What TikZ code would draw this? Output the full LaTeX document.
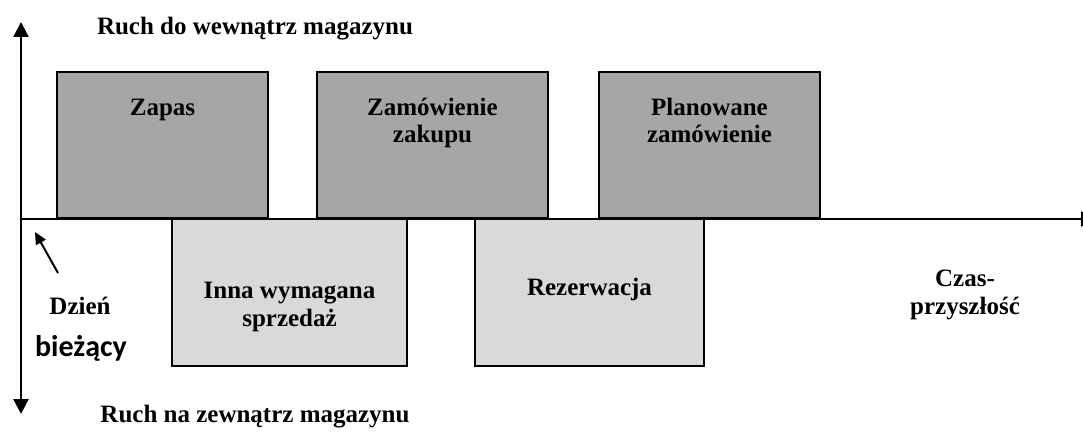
\documentclass[tikz,border=0pt]{standalone}
\usepackage{fontspec}
\setmainfont{Liberation Serif}
\newfontfamily\calibrifont{Carlito}
\usetikzlibrary{arrows.meta}
\definecolor{topgray}{HTML}{A6A6A6}
\definecolor{botgray}{HTML}{D9D9D9}
\begin{document}
\begin{tikzpicture}[x=1pt,y=-1pt,
  topbox/.style={draw=black, line width=1.8pt, fill=topgray, rectangle, inner sep=0pt, outer sep=0pt},
  botbox/.style={draw=black, line width=1.8pt, fill=botgray, rectangle, inner sep=0pt, outer sep=0pt},
  lbl/.style={font=\bfseries\fontsize{25}{27.5}\selectfont, align=center, inner sep=0pt, anchor=base},
  axis/.style={line width=2.3pt, -{Triangle[width=15pt,length=15pt]}},
  pointer/.style={line width=2pt, -{Triangle[width=11pt,length=12pt]}}
]
\useasboundingbox (0,0) rectangle (1083,435);
\clip (0,0) rectangle (1083,435);
% upper boxes
\node[topbox, minimum width=211pt, minimum height=146pt] (zapas) at (162.5,145) {};
\node[topbox, minimum width=231pt, minimum height=146pt] (zakup) at (432.5,145) {};
\node[topbox, minimum width=221pt, minimum height=146pt] (plan) at (709.5,145) {};
% lower boxes
\node[botbox, minimum width=235pt, minimum height=147pt] (inna) at (289.5,292.5) {};
\node[botbox, minimum width=229pt, minimum height=147pt] (rez) at (589.5,292.5) {};
% axes
\coordinate (o) at (21,219);
\coordinate (up) at (21,22);
\coordinate (down) at (21,414);
\coordinate (right) at (1096,219);
\draw[axis] (o) -- (up);
\draw[axis] (o) -- (down);
\draw[axis] (o) -- (right);
% pointer to current day
\coordinate (ptail) at (58,273);
\coordinate (ptip) at (35,232);
\draw[pointer] (ptail) -- (ptip);
% labels (multi-line labels: base = last line)
\node[lbl] (tin) at (255,35) {Ruch do wewnątrz magazynu};
\node[lbl] (tout) at (255,422) {Ruch na zewnątrz magazynu};
\node[lbl] (tzapas) at (162.5,116) {Zapas};
\node[lbl] (tzakup) at (432.5,143) {Zamówienie\\zakupu};
\node[lbl] (tplan) at (709.5,143) {Planowane\\zamówienie};
\node[lbl] (tinna) at (289.5,326) {Inna wymagana\\sprzedaż};
\node[lbl] (trez) at (589.5,295) {Rezerwacja};
\node[lbl] (tdzien) at (80,314) {Dzień};
\node[lbl, font=\calibrifont\bfseries\fontsize{30}{32}\selectfont] (tbiez) at (81,356) {bieżący};
\node[lbl] (tczas) at (965,314) {Czas-\\przyszłość};
\end{tikzpicture}
\end{document}
